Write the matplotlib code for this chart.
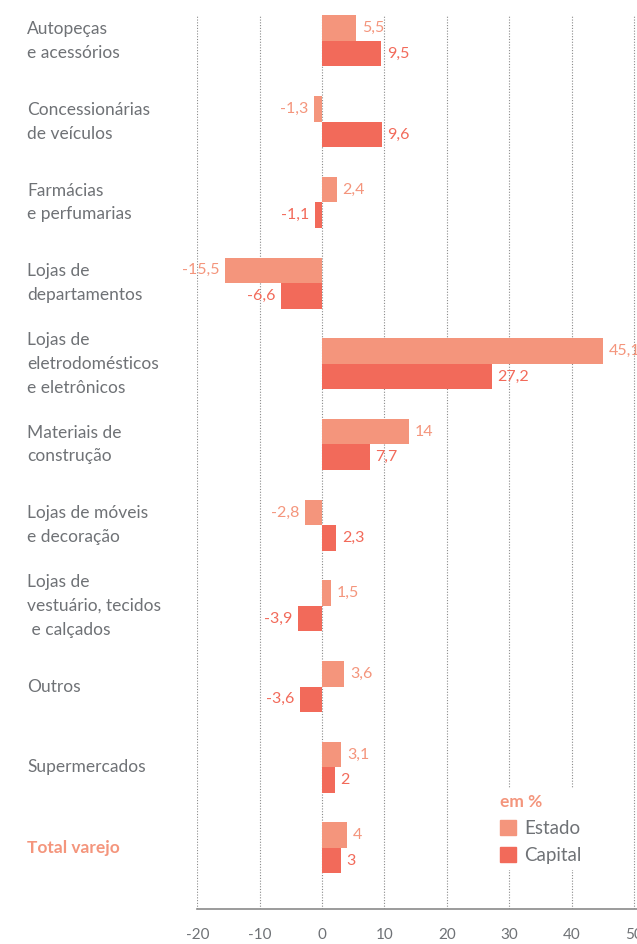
import numpy as np
import matplotlib.pyplot as plt
from matplotlib.patches import Patch

plt.rcParams['font.family'] = ['Lato', 'DejaVu Sans']

## categories and values (em %)
categories = [
  "Autopeças\ne acessórios",
  "Concessionárias\nde veículos",
  "Farmácias\ne perfumarias",
  "Lojas de\ndepartamentos",
  "Lojas de\neletrodomésticos\ne eletrônicos",
  "Materiais de\nconstrução",
  "Lojas de móveis\ne decoração",
  "Lojas de\nvestuário, tecidos\n e calçados",
  "Outros",
  "Supermercados",
  "Total varejo",
]
estado = [5.5, -1.3, 2.4, -15.5, 45.1, 14, -2.8, 1.5, 3.6, 3.1, 4]
capital = [9.5, 9.6, -1.1, -6.6, 27.2, 7.7, 2.3, -3.9, -3.6, 2, 3]
xticks = [-20, -10, 0, 10, 20, 30, 40, 50]

COL_ESTADO = '#F4957C'
COL_CAPITAL = '#F26A5A'
GREY = '#6F7276'

def fmt(v):
  return ('%g' % v).replace('.', ',')

fig = plt.figure(figsize=(6.37, 9.44), dpi=100)
ax = fig.add_axes([197.3 / 637, 35 / 944, 1 - 197.3 / 637, 894 / 944])

y = np.arange(len(categories))
h = 0.316
ax.barh(y - h / 2, estado, height=h, color=COL_ESTADO, zorder=2)
ax.barh(y + h / 2, capital, height=h, color=COL_CAPITAL, zorder=2)

## value labels
for yy, vals, col in [(y - h / 2, estado, COL_ESTADO), (y + h / 2, capital, COL_CAPITAL)]:
  for yi, v in zip(yy, vals):
    off = 4 if v >= 0 else -4
    ax.annotate(fmt(v), (v, yi), xytext=(off, 0), textcoords='offset points',
                ha='left' if v >= 0 else 'right', va='center',
                color=col, fontsize=11.5)

ax.set_xlim(-20, 50.5)
ax.set_ylim(10.756, -0.322)

ax.set_xticks(xticks)
ax.set_xticklabels([str(t) for t in xticks], fontsize=11, color=GREY)
ax.tick_params(axis='x', length=0, pad=14)
ax.set_yticks([])
ax.grid(axis='x', linestyle=(0, (1, 1.5)), color='#8a8a8a', linewidth=0.8, zorder=0)
for s in ['top', 'right', 'left']:
  ax.spines[s].set_visible(False)
ax.spines['bottom'].set_color('#8a8a8a')
ax.spines['bottom'].set_linewidth(1.2)

## category labels, placed in figure coords
for i, cat in enumerate(categories):
  last = (i == len(categories) - 1)
  fig.text(27 / 637, 1 - (41 + 80.7 * i) / 944, cat, fontsize=12.5,
           ha='left', va='center', linespacing=1.6,
           color=COL_ESTADO if last else GREY,
           fontweight='bold' if last else 'normal')

leg = ax.legend(handles=[Patch(color=COL_ESTADO, label='Estado'),
                         Patch(color=COL_CAPITAL, label='Capital')],
                title='em %', loc='upper left', bbox_to_anchor=(494 / 637, 1 - 788 / 944),
                bbox_transform=fig.transFigure,
                frameon=True, facecolor='white', edgecolor='none', framealpha=1,
                fontsize=13.5, handlelength=0.85, handleheight=0.85, handletextpad=0.45,
                labelspacing=0.55, borderpad=0.3, borderaxespad=0)
leg.get_title().set_color(COL_ESTADO)
leg.get_title().set_fontweight('bold')
leg.get_title().set_fontsize(12.5)
leg._legend_box.align = 'left'
for txt in leg.get_texts():
  txt.set_color(GREY)
leg.set_zorder(5)

fig.savefig('out.png', dpi=100)
